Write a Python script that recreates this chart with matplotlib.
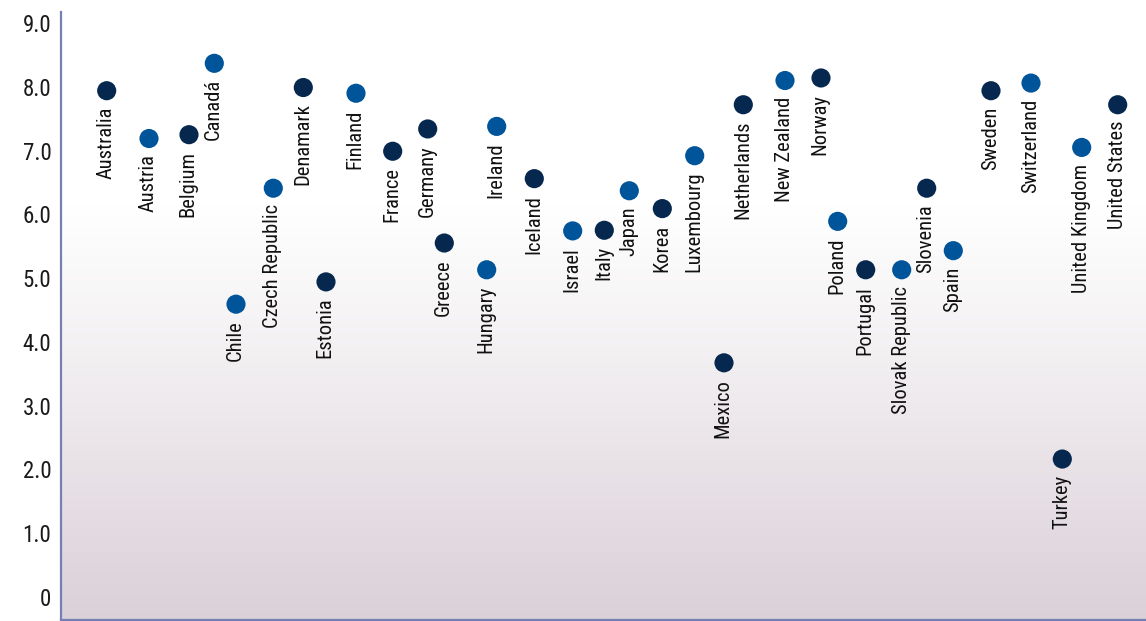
import numpy as np
import matplotlib
matplotlib.use("Agg")
import matplotlib.pyplot as plt
from matplotlib.colors import LinearSegmentedColormap

countries = ["Australia", "Austria", "Belgium", "Canadá", "Chile", "Czech Republic",
             "Denamark", "Estonia", "Finland", "France", "Germany", "Greece",
             "Hungary", "Ireland", "Iceland", "Israel", "Italy", "Japan", "Korea",
             "Luxembourg", "Mexico", "Netherlands", "New Zealand", "Norway",
             "Poland", "Portugal", "Slovak Republic", "Slovenia", "Spain",
             "Sweden", "Switzerland", "Turkey", "United Kingdom", "United States"]
x_values = [4.57, 8.8, 12.8, 15.33, 17.5, 21.23, 24.23, 26.5, 29.5, 33.17,
            36.67, 38.33, 42.57, 43.57, 47.33, 51.17, 54.33, 56.83, 60.13,
            63.37, 66.3, 68.23, 72.4, 76.0, 77.67, 80.47, 84.07, 86.57, 89.23,
            93.0, 97.0, 100.13, 102.07, 105.67]
values = [7.94, 7.19, 7.25, 8.37, 4.59, 6.41, 7.99, 4.94, 7.90, 6.99, 7.34,
          5.55, 5.13, 7.38, 6.56, 5.74, 5.75, 6.37, 6.09, 6.92, 3.67, 7.72,
          8.10, 8.14, 5.89, 5.13, 5.13, 6.41, 5.43, 7.94, 8.06, 2.16, 7.05, 7.72]
groups = [0, 1, 0, 1, 1, 1, 0, 0, 1, 0, 0, 0, 1, 1, 0, 1, 0, 1, 0, 1, 0, 0,
          1, 0, 1, 0, 1, 0, 1, 0, 1, 0, 1, 0]
yticks = [0, 1, 2, 3, 4, 5, 6, 7, 8, 9]
ytick_labels = ["0", "1.0", "2.0", "3.0", "4.0", "5.0", "6.0", "7.0", "8.0", "9.0"]

group_colors = ["#06284f", "#005499"]
font = ["Roboto Condensed", "Archivo Narrow", "DejaVu Sans"]
plt.rcParams["font.family"] = font

fig = plt.figure(figsize=(11.46, 6.21), dpi=100)
ax = fig.add_axes([61 / 1146, 1 / 621, 1 - 61 / 1146, (620 - 11.7) / 621])

# background gradient
cmap = LinearSegmentedColormap.from_list(
    "bg", [(0.0, (1, 1, 1)), (0.32, (1, 1, 1)), (0.55, (0.955, 0.945, 0.952)),
           (0.78, (0.905, 0.878, 0.9)), (1.0, (0.855, 0.818, 0.85))])
grad = np.linspace(0, 1, 400).reshape(-1, 1)
ax.imshow(grad, cmap=cmap, aspect="auto", extent=[0, 1, 0, 1],
          transform=ax.transAxes, zorder=0, origin="upper")

cols = [group_colors[g] for g in groups]
ax.scatter(x_values, values, s=190, c=cols, zorder=3, edgecolors="none")

for xv, yv, name in zip(x_values, values, countries):
    ax.annotate(name, (xv, yv), xytext=(-0.5, -11.5), textcoords="offset points",
                rotation=90, ha="center", va="top", fontsize=14.8,
                color="#111111", zorder=4)

ax.set_xlim(0, 108.5)
ax.set_ylim(-0.366, 9.18)
ax.set_xticks([])
ax.set_yticks(yticks)
ax.set_yticklabels(ytick_labels, fontsize=16.5, color="#1a1a1a")
ax.tick_params(axis="y", length=0, pad=7)
for s in ["top", "right"]:
    ax.spines[s].set_visible(False)
for s in ["left", "bottom"]:
    ax.spines[s].set_color("#7480b2")
    ax.spines[s].set_linewidth(1.6)

fig.savefig("out.png", dpi=100)
